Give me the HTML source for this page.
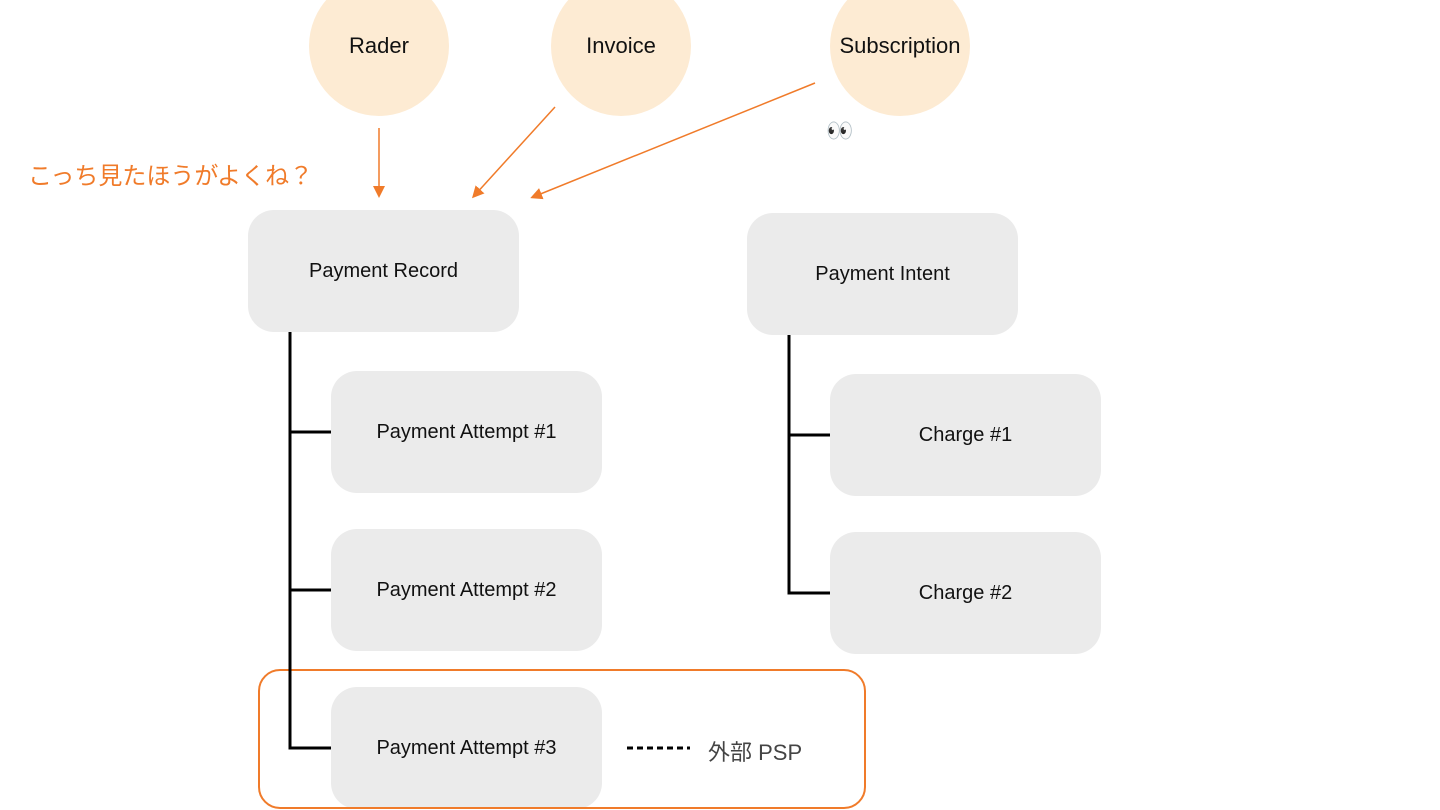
<!DOCTYPE html>
<html><head><meta charset="utf-8"><style>
body{margin:0;width:1440px;height:810px;background:#fff;overflow:hidden;position:relative;font-family:"Liberation Sans","Noto Sans CJK JP",sans-serif}
.c{position:absolute;width:140px;height:140px;border-radius:50%;background:#fdebd3;display:flex;align-items:center;justify-content:center;font-size:22px;color:#111}
.b{position:absolute;width:271px;height:122px;border-radius:26px;background:#ebebeb;display:flex;align-items:center;justify-content:center;font-size:20px;color:#111}
svg{position:absolute;left:0;top:0}
</style></head><body>
<div class="c" style="left:309px;top:-24px">Rader</div>
<div class="c" style="left:551px;top:-24px">Invoice</div>
<div class="c" style="left:830px;top:-24px">Subscription</div>
<div style="position:absolute;left:826px;top:118px;font-size:22px">👀</div>
<div style="position:absolute;left:28px;top:156px;font-size:24px;color:#f07b2a">こっち見たほうがよくね？</div>
<div class="b" style="left:248px;top:210px">Payment Record</div>
<div class="b" style="left:747px;top:213px">Payment Intent</div>
<div class="b" style="left:331px;top:371px">Payment Attempt #1</div>
<div class="b" style="left:331px;top:529px">Payment Attempt #2</div>
<div class="b" style="left:331px;top:687px">Payment Attempt #3</div>
<div class="b" style="left:830px;top:374px">Charge #1</div>
<div class="b" style="left:830px;top:532px">Charge #2</div>
<div style="position:absolute;left:258px;top:669px;width:604px;height:136px;border:2px solid #f07b2a;border-radius:22px"></div>
<div style="position:absolute;left:708px;top:735px;font-size:22px;color:#444">外部 PSP</div>
<svg width="1440" height="810">
<defs><marker id="a" markerWidth="8" markerHeight="8" refX="6" refY="4" orient="auto"><path d="M0,0 L8,4 L0,8z" fill="#f07b2a"/></marker></defs>
<g stroke="#f07b2a" stroke-width="1.5" fill="none">
<line x1="379" y1="128" x2="379" y2="195" marker-end="url(#a)"/>
<line x1="555" y1="107" x2="474" y2="196" marker-end="url(#a)"/>
<line x1="815" y1="83" x2="533" y2="197" marker-end="url(#a)"/>
</g>
<g stroke="#000" stroke-width="3" fill="none">
<path d="M290 332 V748 H331 M290 432 H331 M290 590 H331"/>
<path d="M789 335 V593 H830 M789 435 H830"/>
<line x1="627" y1="748" x2="690" y2="748" stroke-dasharray="6,4"/>
</g>
</svg>
</body></html>
